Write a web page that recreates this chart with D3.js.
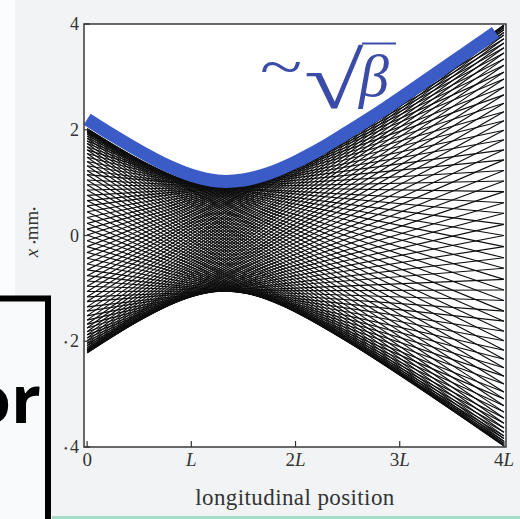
<!DOCTYPE html>
<html><head><meta charset="utf-8">
<script src="https://cdn.jsdelivr.net/npm/d3@7"></script>
<style>html,body{margin:0;padding:0;background:#f1f3f5;} svg{display:block}</style>
</head><body>
<svg id="chart" width="520" height="519"></svg>
<script>
// ---------- data ----------
const xTickValues = [0, 1, 2, 3, 4];
const xTickNums   = ["0", "", "2", "3", "4"];   // numeric prefix of tick label, followed by italic L
const xTickHasL   = [false, true, true, true, true];
const yTickValues = [-4, -2, 0, 2, 4];
const yTickLabels = ["4", "2", "0", "2", "4"];
const yTickNeg    = [true, true, false, false, false];

// trajectories: transverse position x (mm) at s = 0 and at s = 4L
const trajStart = [2.02,2.02,2.01,1.99,1.97,1.95,1.92,1.88,1.84,1.79,1.74,1.68,1.62,1.55,1.48,1.40,1.32,1.23,1.15,1.05,
  0.96,0.86,0.76,0.66,0.56,0.45,0.34,0.23,0.12,0.01,-0.10,-0.21,-0.32,-0.43,-0.54,-0.65,-0.76,-0.86,-0.96,-1.06,
  -1.16,-1.25,-1.35,-1.43,-1.52,-1.60,-1.68,-1.75,-1.82,-1.88,-1.94,-1.99,-2.04,-2.08,-2.12,-2.15,-2.17,-2.19,-2.21,-2.22,
  -2.22,-2.22,-2.21,-2.19,-2.17,-2.15,-2.12,-2.08,-2.04,-1.99,-1.94,-1.88,-1.82,-1.75,-1.68,-1.60,-1.52,-1.43,-1.35,-1.25,
  -1.16,-1.06,-0.96,-0.86,-0.76,-0.65,-0.54,-0.43,-0.32,-0.21,-0.10,0.01,0.12,0.23,0.34,0.45,0.56,0.66,0.76,0.86,
  0.96,1.05,1.15,1.23,1.32,1.40,1.48,1.55,1.62,1.68,1.74,1.79,1.84,1.88,1.92,1.95,1.97,1.99,2.01,2.02];
const trajEnd = [-2.96,-3.09,-3.22,-3.34,-3.45,-3.55,-3.64,-3.72,-3.79,-3.84,-3.89,-3.93,-3.96,-3.97,-3.98,-3.97,-3.96,-3.93,-3.89,-3.84,
  -3.79,-3.72,-3.64,-3.55,-3.45,-3.34,-3.22,-3.09,-2.96,-2.81,-2.66,-2.50,-2.34,-2.17,-1.99,-1.81,-1.62,-1.43,-1.23,-1.03,
  -0.83,-0.62,-0.42,-0.21,0.00,0.21,0.42,0.62,0.83,1.03,1.23,1.43,1.62,1.81,1.99,2.17,2.34,2.50,2.66,2.81,
  2.96,3.09,3.22,3.34,3.45,3.55,3.64,3.72,3.79,3.84,3.89,3.93,3.96,3.97,3.98,3.97,3.96,3.93,3.89,3.84,
  3.79,3.72,3.64,3.55,3.45,3.34,3.22,3.09,2.96,2.81,2.66,2.50,2.34,2.17,1.99,1.81,1.62,1.43,1.23,1.03,
  0.83,0.62,0.42,0.21,0.00,-0.21,-0.42,-0.62,-0.83,-1.03,-1.23,-1.43,-1.62,-1.81,-1.99,-2.17,-2.34,-2.50,-2.66,-2.81];

// beam envelope ~ sqrt(beta) (blue band)
const envS = [0, 0.25, 0.5, 0.75, 1.0, 1.25, 1.5, 1.75, 2.0, 2.25, 2.5, 2.75, 3.0, 3.25, 3.5, 3.75, 3.92];
const envX = [2.20, 1.89, 1.60, 1.34, 1.14, 1.03, 1.05, 1.18, 1.39, 1.65, 1.95, 2.26, 2.59, 2.93, 3.27, 3.61, 3.84];

// ---------- drawing ----------
const svg = d3.select("#chart");
const W = 520, H = 519;
const x = d3.scaleLinear().domain([-0.03, 4.02]).range([84, 506]);
const y = d3.scaleLinear().domain([-4, 4]).range([447, 24]);

svg.append("rect").attr("width", W).attr("height", H).attr("fill", "#f1f3f5");
svg.append("rect").attr("x", 0).attr("y", 0).attr("width", 15).attr("height", H).attr("fill", "#fbfcfd");

// plot area
svg.append("rect").attr("x", x.range()[0]).attr("y", y.range()[1])
  .attr("width", x.range()[1] - x.range()[0]).attr("height", y.range()[0] - y.range()[1])
  .attr("fill", "#ffffff");

svg.append("clipPath").attr("id", "clip").append("rect")
  .attr("x", x.range()[0]).attr("y", y.range()[1])
  .attr("width", x.range()[1] - x.range()[0]).attr("height", y.range()[0] - y.range()[1]);

const line = d3.line().x(d => x(d[0])).y(d => y(d[1]));
const trajData = trajStart.map((a, i) => [[0, a], [4, trajEnd[i]]]);
svg.append("g").attr("clip-path", "url(#clip)")
  .selectAll("path").data(trajData).join("path")
  .attr("d", line).attr("fill", "none").attr("stroke", "#0e0e0e").attr("stroke-width", 1.15);

// blue envelope
const envLine = d3.line().x(d => x(d[0])).y(d => y(d[1])).curve(d3.curveCatmullRom);
svg.append("path").datum(envS.map((s, i) => [s, envX[i]]))
  .attr("d", envLine).attr("fill", "none").attr("stroke", "#3b5cc7")
  .attr("stroke-width", 13).attr("stroke-linecap", "butt");

// frame
svg.append("rect").attr("x", x.range()[0]).attr("y", y.range()[1])
  .attr("width", x.range()[1] - x.range()[0]).attr("height", y.range()[0] - y.range()[1])
  .attr("fill", "none").attr("stroke", "#3a3a3a").attr("stroke-width", 1.5);

// ticks
const serif = "'Liberation Serif','DejaVu Serif',serif";
const axG = svg.append("g").attr("fill", "#333").attr("font-family", serif);
xTickValues.forEach((v, i) => {
  axG.append("line").attr("x1", x(v)).attr("x2", x(v)).attr("y1", y(-4)).attr("y2", y(-4) - 6)
    .attr("stroke", "#333").attr("stroke-width", 1.2);
  const t = axG.append("text").attr("x", x(v)).attr("y", 466).attr("text-anchor", "middle").attr("font-size", 19);
  if (xTickNums[i]) t.append("tspan").text(xTickNums[i]);
  if (xTickHasL[i]) t.append("tspan").attr("font-style", "italic").text("L");
});
yTickValues.forEach((v, i) => {
  axG.append("line").attr("x1", x(-0.03)).attr("x2", x(-0.03) + 6).attr("y1", y(v)).attr("y2", y(v))
    .attr("stroke", "#333").attr("stroke-width", 1.2);
  const t = axG.append("text").attr("x", 79).attr("y", y(v) + 6).attr("text-anchor", "end").attr("font-size", 18);
  if (yTickNeg[i]) t.append("tspan").attr("font-size", 10).attr("dy", -1.5).text("• ");
  t.append("tspan").attr("dy", yTickNeg[i] ? 1.5 : 0).text(yTickLabels[i]);
});

// axis titles
axG.append("text").attr("x", 295).attr("y", 505).attr("text-anchor", "middle")
  .attr("font-size", 23).attr("letter-spacing", 0.4).text("longitudinal position");
const yl = axG.append("text").attr("transform", "translate(38,232) rotate(-90)")
  .attr("text-anchor", "middle").attr("font-size", 19);
yl.append("tspan").attr("font-style", "italic").text("x ");
yl.append("tspan").attr("font-size", 11).text("•");
yl.append("tspan").text("mm");
yl.append("tspan").attr("font-size", 11).text("•");

// ~ sqrt(beta) annotation
const annColor = "#3a4ca8";
const annG = svg.append("g").attr("fill", annColor).attr("font-family", serif);
annG.append("text").attr("transform", "translate(260,86) scale(1.5,1.1)").attr("font-size", 52).text("~");
annG.append("text").attr("transform", "translate(304,108) scale(1.55,1.14)").attr("font-size", 70).text("√");
annG.append("text").attr("x", 359).attr("y", 96).attr("font-size", 60).attr("font-style", "italic").text("β");
annG.append("line").attr("x1", 362).attr("x2", 396).attr("y1", 43.5).attr("y2", 43.5)
  .attr("stroke", annColor).attr("stroke-width", 2.2);

// left box with "or"
svg.append("rect").attr("x", 0).attr("y", 301).attr("width", 46).attr("height", 218).attr("fill", "#f8fafb");
svg.append("path").attr("d", "M-10,298.5 H48 V530").attr("fill", "none")
  .attr("stroke", "#000").attr("stroke-width", 6);
svg.append("text").attr("x", 41).attr("y", 423).attr("text-anchor", "end")
  .attr("font-family", "'Open Sans','Noto Sans',sans-serif").attr("font-weight", 700)
  .attr("font-size", 66).attr("fill", "#000").text("or");

// bottom teal strip
svg.append("rect").attr("x", 52).attr("y", 516).attr("width", 468).attr("height", 3).attr("fill", "#a6dcc6");
</script>
</body></html>
